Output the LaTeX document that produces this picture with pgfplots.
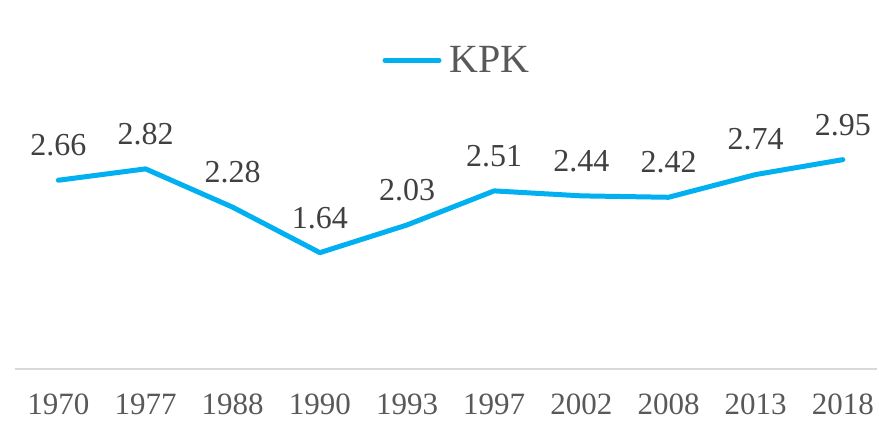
\documentclass[border=0pt]{standalone}
\usepackage{pgfplots}
\pgfplotsset{compat=1.18}
\usepackage{fontspec}
\setmainfont{Liberation Serif}
\definecolor{kpk}{HTML}{00B0F0}
\definecolor{lab}{HTML}{404040}
\definecolor{tick}{HTML}{595959}
\definecolor{grid}{HTML}{D9D9D9}
\begin{document}
\begin{tikzpicture}[x=1pt,y=1pt]
\begin{axis}[
  at={(17,74.5)}, anchor=south west,
  scale only axis, width=862pt, height=248.5pt,
  xmin=-0.5, xmax=9.39, ymin=0, ymax=3.5,
  axis x line=bottom, axis y line=none,
  axis line style={draw=grid, line width=1.5pt, -},
  xtick={0,...,9},
  xticklabels={1970,1977,1988,1990,1993,1997,2002,2008,2013,2018},
  major tick length=0pt,
  xticklabel style={anchor=base, yshift=-45pt, inner sep=0pt, text depth=0pt, text=tick, font=\fontsize{31}{36}\selectfont},
  nodes near coords,
  nodes near coords style={anchor=center, yshift=35pt, text=lab, font=\fontsize{32}{36}\selectfont,
    /pgf/number format/.cd, fixed, precision=2, fixed zerofill, assume math mode=true},
  legend style={at={(0.513,1.243)}, anchor=center, draw=none, fill=none,
    font=\fontsize{40}{46}\selectfont, text=tick, inner sep=0pt,
    /tikz/every odd column/.append style={column sep=6pt}},
  legend image code/.code={\draw[#1, line width=5pt, line cap=round] (0pt,0pt) -- (54pt,0pt);},
  clip=false,
]
\addplot[color=kpk, line width=5pt, line join=round, line cap=round, mark=none]
  coordinates {(0,2.66) (1,2.82) (2,2.28) (3,1.64) (4,2.03) (5,2.51) (6,2.44) (7,2.42) (8,2.74) (9,2.95)};
\addlegendentry{KPK}
\end{axis}
\pgfresetboundingbox
\path (0,0) rectangle (879,422);
\end{tikzpicture}
\end{document}
